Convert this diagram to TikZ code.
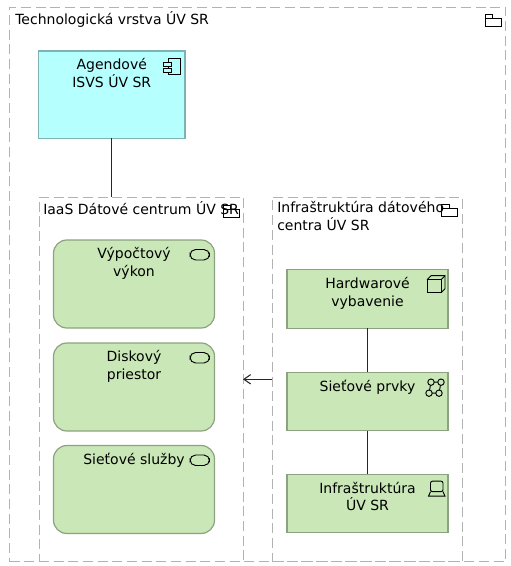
\documentclass[tikz,border=0pt]{standalone}
\usepackage{fontspec}
\setmainfont{DejaVu Sans}
\usetikzlibrary{arrows.meta, positioning, calc}
\definecolor{appFill}{RGB}{181, 255, 255}
\definecolor{appLine}{RGB}{127, 179, 179}
\definecolor{techFill}{RGB}{201, 231, 183}
\definecolor{techLine}{RGB}{141, 162, 128}
\definecolor{groupLine}{RGB}{178, 178, 178}
\tikzset{
    groupbox/.style={draw=groupLine, line width=0.6pt, dash pattern=on 7.5pt off 3.5pt, inner sep=0pt, outer sep=0pt},
    techbox/.style={draw=techLine, fill=techFill, line width=0.9pt, minimum width=120.75pt, inner sep=0pt, outer sep=0pt},
    servicebox/.style={techbox, rounded corners=10pt, minimum height=66pt},
    boxtext/.style={font=\fontsize{10.5}{13.1}\selectfont, align=center, inner sep=0pt, anchor=north, yshift=-5.6pt},
    grouptext/.style={font=\fontsize{10.5}{13.1}\selectfont, align=left, inner sep=0pt, anchor=north west},
    wire/.style={line width=0.8pt, black!85},
    iconline/.style={line width=0.7pt, black},
    pics/foldericon/.style={code={
        \draw[iconline] (-16,4) rectangle (0,12.4);
        \draw[iconline] (-16,4) -- (-16,0) -- (-8.5,0) -- (-8.5,4);
    }},
    pics/componenticon/.style={code={
        \draw[iconline] (-17,7) rectangle (-4.5,23);
        \draw[iconline, fill=appFill] (-21.5,11) rectangle (-14,15);
        \draw[iconline, fill=appFill] (-21.5,17) rectangle (-14,21);
    }},
    pics/serviceicon/.style={code={
        \draw[iconline, rounded corners=4.2pt] (-24.5,9.5) rectangle (-5,20);
    }},
    pics/cubeicon/.style={code={
        \draw[iconline] (-21,10) rectangle (-7,23);
        \draw[iconline] (-21,10) -- (-17,6) -- (-3,6) -- (-3,19) -- (-7,23);
        \draw[iconline] (-7,10) -- (-3,6);
    }},
    pics/networkicon/.style={code={
        \draw[iconline] (-17,10) -- (-7,10) -- (-9,21) -- (-19,21) -- cycle;
        \foreach \cx/\cy in {-17/10, -7/10, -9/21, -19/21}
            \draw[iconline, fill=techFill] (\cx,\cy) circle (2.4pt);
    }},
    pics/deviceicon/.style={code={
        \draw[iconline, rounded corners=1.5pt] (-17.5,7) rectangle (-5,17.5);
        \draw[iconline] (-17.5,17.5) -- (-19.5,22) -- (-3,22) -- (-5,17.5);
    }},
}
\begin{document}
\begin{tikzpicture}[x=0.75pt, y=-0.75pt]
    \useasboundingbox (0,0) rectangle (510,566);
    \node[groupbox, minimum width=372pt, minimum height=416pt] (layer) at (257.5,284.3) {};
    \node[grouptext] (layertext) at (15,11.5) {Technologická vrstva ÚV SR};
    \pic at (501.3,14.3) {foldericon};

    \node[groupbox, minimum width=153pt, minimum height=273.4pt] (iaas) at (141,379.3) {};
    \node[grouptext] (iaastext) at (43,201.5) {IaaS Dátové centrum ÚV SR};
    \pic at (239,205) {foldericon};

    \node[groupbox, minimum width=142.5pt, minimum height=273.4pt] (infra) at (367,379.3) {};
    \node[grouptext] (infratext) at (277,201.5) {Infraštruktúra dátového\\centra ÚV SR};
    \pic at (457.7,204) {foldericon};

    \node[draw=appLine, fill=appFill, line width=0.9pt, minimum width=110pt, minimum height=65.5pt, inner sep=0pt, outer sep=0pt] (agenda) at (111.75,94.7) {};
    \node[boxtext] (agendatext) at (agenda.north) {Agendové\\ISVS ÚV SR};
    \pic at (agenda.north east) {componenticon};

    \foreach \name/\y/\desc in {
        vykon/284/{Výpočtový\\výkon},
        disk/387/{Diskový\\priestor},
        sluzby/489.5/{Sieťové služby}}
    {
        \node[servicebox] (\name) at (134,\y) {};
        \node[boxtext] (\name text) at (\name.north) {\desc};
        \pic at (\name.north east) {serviceicon};
    }

    \foreach \name/\y/\desc/\icon in {
        hardware/299/{Hardwarové\\vybavenie}/cubeicon,
        siet/401.5/{Sieťové prvky}/networkicon,
        zaklad/503.5/{Infraštruktúra\\ÚV SR}/deviceicon}
    {
        \node[techbox, minimum height=44pt] (\name) at (367.5,\y) {};
        \node[boxtext] (\name text) at (\name.north) {\desc};
        \pic at (\name.north east) {\icon};
    }

    \draw[wire] (agenda.south) -- (agenda.south |- iaas.north);
    \draw[wire] (hardware.south) -- (siet.north);
    \draw[wire] (siet.south) -- (zaklad.north);
    \draw[wire, -{Straight Barb[length=5pt, width=7pt]}] (infra.west) -- (iaas.east);
\end{tikzpicture}
\end{document}
